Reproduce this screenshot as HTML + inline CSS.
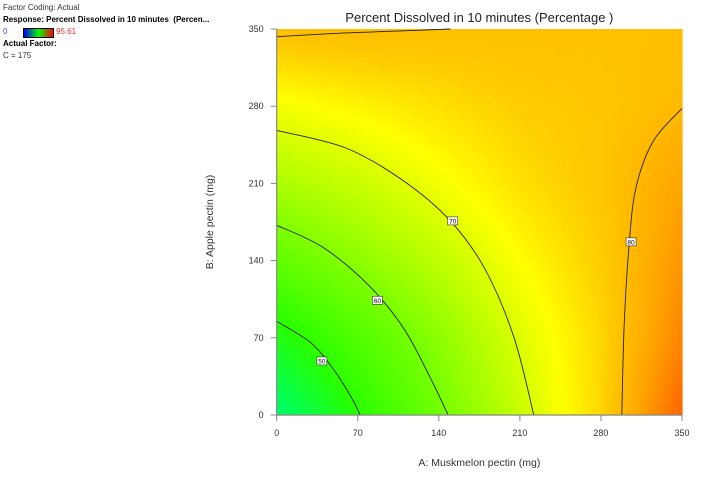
<!DOCTYPE html>
<html><head><meta charset="utf-8"><style>
body{margin:0;background:#fff;font-family:"Liberation Sans",sans-serif;}
#legend{position:absolute;left:3px;top:2px;font-size:8px;color:#333;line-height:12px;}
</style></head><body>
<div id="legend">
<div>Factor Coding: Actual</div>
<div style="font-weight:bold;color:#000">Response: Percent Dissolved in 10 minutes &nbsp;(Percen...</div>
<div style="position:relative;height:12px"><span style="color:#44f">0</span>
<span style="position:absolute;left:20px;top:2px;width:29px;height:8px;border:1px solid #000;background:linear-gradient(90deg,#00f,#0f0,#f00)"></span>
<span style="position:absolute;left:53px;color:#e33">95.61</span></div>
<div style="font-weight:bold;color:#000">Actual Factor:</div>
<div>C = 175</div>
</div>
<svg id="chart" width="717" height="481" style="position:absolute;left:0;top:0"></svg>
<script>
const aTicks=[0,70,140,210,280,350];
const bTicks=[0,70,140,210,280,350];
const gridVals=[
[40,50,59,68,77,92],
[48,55,62,70,77,88],
[57,62,67,73,78,86],
[65,68,72,76,79,84],
[72,74,76,78,79,81],
[80,80.5,80,80,80,80]];
const c50=[[0,85],[30,65],[50,40],[65,15],[72,0]];
const c60=[[0,172],[40,152],[80,117],[110,78],[133,33],[148,0]];
const c70=[[0,258],[60,242],[110,212],[150,176],[180,132],[205,70],[222,0]];
const c80r=[[298,0],[300,80],[304,150],[310,205],[325,248],[350,278]];
const c80t=[[0,343],[50,346],[100,348],[150,350]];
const contours=[c50,c60,c70,c80r,c80t];
const labels=[["50",39,49],["60",87,104],["70",152,176],["80",306,157]];
const X0=276.7,X1=682,Y0=415,Y1=29;
const sx=a=>X0+a/350*(X1-X0), sy=b=>Y0-b/350*(Y0-Y1);
const svg=document.getElementById('chart');const NS='http://www.w3.org/2000/svg';
function mk(t,at,p){const e=document.createElementNS(NS,t);for(const k in at)e.setAttribute(k,at[k]);(p||svg).appendChild(e);return e;}
const stops=[[0,[0,0,255]],[25,[0,200,255]],[42,[0,255,90]],[50,[40,255,0]],[60,[120,255,0]],[68,[200,255,0]],[73,[255,255,0]],[78,[255,205,0]],[84,[255,165,0]],[95.61,[255,70,0]]];
function col(v){for(let i=1;i<stops.length;i++){if(v<=stops[i][0]){const[a,ca]=stops[i-1],[b,cb]=stops[i];const t=(v-a)/(b-a);return 'rgb('+ca.map((c,j)=>Math.round(c+(cb[j]-c)*t)).join(',')+')';}}return 'rgb(255,70,0)';}
function val(a,b){const fi=a/70,fj=b/70;const i=Math.min(4,Math.floor(fi)),j=Math.min(4,Math.floor(fj));const u=fi-i,w=fj-j;
return gridVals[j][i]*(1-u)*(1-w)+gridVals[j][i+1]*u*(1-w)+gridVals[j+1][i]*(1-u)*w+gridVals[j+1][i+1]*u*w;}
const g=mk('g',{});
const N=81;
for(let i=0;i<N;i++)for(let j=0;j<N;j++){const a0=i*350/N,b0=j*350/N,d=350/N;
mk('rect',{x:sx(a0),y:sy(b0+d),width:sx(d)-X0+0.6,height:Y0-sy(d)+0.6,fill:col(val(a0+d/2,b0+d/2))},g);}
function smooth(c){const p=c.map(q=>[sx(q[0]),sy(q[1])]);let d='M'+p[0];
for(let i=0;i<p.length-1;i++){const p0=p[Math.max(0,i-1)],p1=p[i],p2=p[i+1],p3=p[Math.min(p.length-1,i+2)];
const c1=[p1[0]+(p2[0]-p0[0])/6,p1[1]+(p2[1]-p0[1])/6],c2=[p2[0]-(p3[0]-p1[0])/6,p2[1]-(p3[1]-p1[1])/6];
d+='C'+c1+' '+c2+' '+p2;}return d;}
contours.forEach((c,k)=>{const p=mk('path',{d:smooth(c),fill:'none',stroke:'#222','stroke-width':0.9});
});
labels.forEach(l=>{const x=sx(l[1]),y=sy(l[2]);const r=mk('rect',{x:x-5,y:y-4,width:10,height:8,fill:'#fff',stroke:'#333','stroke-width':0.6});

const t=mk('text',{x:x,y:y+2.5,'font-size':6.5,'text-anchor':'middle',fill:'#000'});t.textContent=l[0];
});
mk('path',{d:`M${X0},${Y1}V${Y0}H${X1}`,fill:'none',stroke:'#888','stroke-width':1.2});
aTicks.forEach(v=>{const x=sx(v);mk('line',{x1:x,x2:x,y1:Y0,y2:Y0+6,stroke:'#888'});const t=mk('text',{x:x,y:Y0+21,'font-size':9,'text-anchor':'middle',fill:'#333'});t.textContent=v;
});
bTicks.forEach(v=>{const y=sy(v);mk('line',{x1:X0-6,x2:X0,y1:y,y2:y,stroke:'#888'});const t=mk('text',{x:X0-13,y:y+3,'font-size':9,'text-anchor':'end',fill:'#333'});t.textContent=v;
});
let t=mk('text',{x:(X0+X1)/2,y:Y0+51,'font-size':10.5,'text-anchor':'middle',fill:'#333'});t.textContent='A: Muskmelon pectin (mg)';

t=mk('text',{x:0,y:0,'font-size':10.5,'text-anchor':'middle',fill:'#333',transform:`translate(213,${(Y0+Y1)/2}) rotate(-90)`});t.textContent='B: Apple pectin (mg)';

t=mk('text',{x:(X0+X1)/2,y:22,'font-size':13,'text-anchor':'middle',fill:'#222'});t.textContent='Percent Dissolved in 10 minutes  (Percentage )';

</script>
</body></html>
